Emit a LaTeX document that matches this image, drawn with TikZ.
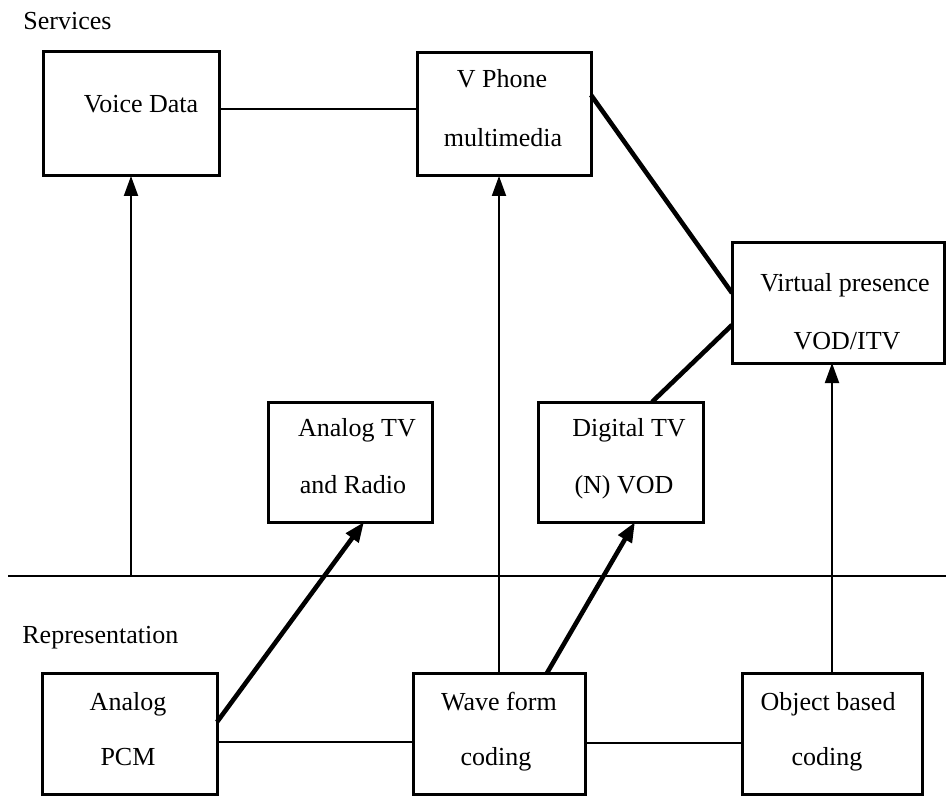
\documentclass[tikz,border=0pt]{standalone}
\usepackage{fontspec}
\setmainfont{Liberation Serif}
\usetikzlibrary{arrows.meta,calc}
\begin{document}
\begin{tikzpicture}[x=0.5pt,y=-0.5pt,
  box/.style={draw, line width=1.5pt, inner sep=0pt, outer sep=0pt},
  lbl/.style={font=\fontsize{13}{15}\selectfont, anchor=base, inner sep=0pt},
  heavy/.style={line width=2.3pt},
  link/.style={line width=1.1pt},
  up/.style={line width=1pt, -{Triangle[length=10pt,width=7pt]}},
  heavyup/.style={line width=2.3pt, -{Triangle[length=10pt,width=7.5pt]}},
]
\useasboundingbox (0,0) rectangle (946,796);

% section captions
\node[lbl, anchor=base west] (svc) at (23,30) {Services};
\node[lbl, anchor=base west] (rep) at (22,643) {Representation};

% service boxes
\node[box, minimum width=88pt, minimum height=62pt] (vd) at (131,114) {};
\node[box, minimum width=87pt, minimum height=61.5pt] (vp) at (504,114.5) {};
\node[box, minimum width=106pt, minimum height=60pt] (vr) at (838,303) {};
\node[box, minimum width=82pt, minimum height=60pt] (at) at (350,462) {};
\node[box, minimum width=82.5pt, minimum height=60pt] (dt) at (620.5,462) {};

% representation boxes
\node[box, minimum width=87.5pt, minimum height=60.5pt] (pcm) at (129.5,733.5) {};
\node[box, minimum width=86pt, minimum height=60.5pt] (wf) at (499,733.5) {};
\node[box, minimum width=90pt, minimum height=60.5pt] (ob) at (832,733.5) {};

% box texts
\node[lbl] (t1) at (141,113) {Voice Data};
\node[lbl] (t2) at (502,88) {V Phone};
\node[lbl] (t3) at (503,147) {multimedia};
\node[lbl] (t4) at (845,292) {Virtual presence};
\node[lbl] (t5) at (847,350) {VOD/ITV};
\node[lbl] (t6) at (357,436) {Analog TV};
\node[lbl] (t7) at (353,493) {and Radio};
\node[lbl] (t8) at (629,436) {Digital TV};
\node[lbl] (t9) at (624,493) {(N) VOD};
\node[lbl] (t10) at (128,710) {Analog};
\node[lbl] (t11) at (128,765) {PCM};
\node[lbl] (t12) at (499,710) {Wave form};
\node[lbl] (t13) at (496,765) {coding};
\node[lbl] (t14) at (828,710) {Object based};
\node[lbl] (t15) at (827,765) {coding};

% dividing line between the two layers
\coordinate (dl) at (8,576);
\coordinate (dr) at (946,576);
\draw[line width=1.4pt] (dl) -- (dr);
\coordinate (vdfoot) at (131,576);

% links between services
\draw[link] ($(vd.east)+(0,-5)$) -- ($(vp.west)+(0,-5.5)$);
\draw[heavy] ($(vp.east)+(0,-19.5)$) -- ($(vr.west)+(0,-10)$);
\draw[heavy] ($(dt.north)+(31.5,0)$) -- ($(vr.west)+(0,22)$);

% links between representations
\draw[link] ($(pcm.east)+(0,8.5)$) -- ($(wf.west)+(0,8.5)$);
\draw[link] ($(wf.east)+(0,9.5)$) -- ($(ob.west)+(0,9.5)$);

% representation feeding services
\draw[up] (vdfoot) -- (vd.south);
\draw[up] (wf.north) -- (wf.north |- vp.south);
\draw[up] (ob.north) -- (ob.north |- vr.south);
\draw[heavyup] ($(pcm.east)+(0,-11.5)$) -- ($(at.south)+(14,0)$);
\draw[heavyup] ($(wf.north)+(48,0)$) -- ($(dt.south)+(14.5,0)$);
\end{tikzpicture}
\end{document}
